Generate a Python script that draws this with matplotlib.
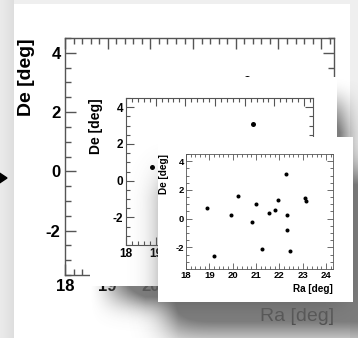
import numpy as np
import matplotlib.pyplot as plt
from matplotlib.patches import Polygon
from matplotlib.ticker import MultipleLocator

W, H = 358, 338

# source positions, degrees
ra = [18.88, 19.19, 19.92, 20.22, 20.83, 21.0, 21.27, 21.57, 21.8, 21.94,
      22.27, 22.32, 22.31, 22.45, 23.12, 23.16]
de = [0.77, -2.59, 0.23, 1.61, -0.23, 1.0, -2.11, 0.43, 0.59, 1.32,
      3.11, 0.23, -0.77, -2.27, 1.41, 1.23]

x_ticks = [18, 19, 20, 21, 22, 23, 24]
y_ticks = [-2, 0, 2, 4]

plt.rcParams['font.family'] = ['Liberation Sans', 'DejaVu Sans']
plt.rcParams['axes.unicode_minus'] = False

fig = plt.figure(figsize=(W / 100, H / 100), dpi=100)


def rect(x0, y0, x1, y1):
    return [x0 / W, 1 - y1 / H, (x1 - x0) / W, (y1 - y0) / H]


def blur_step(n, a, b, sigma):
    v = np.zeros(n)
    v[max(int(a), 0):min(int(b), n)] = 1.0
    k = np.arange(-3 * sigma, 3 * sigma + 1)
    k = np.exp(-0.5 * (k / sigma) ** 2)
    k /= k.sum()
    p = len(k)
    return np.convolve(np.pad(v, p, mode='edge'), k, mode='same')[p:-p]


def shadow(box, dx, dy, sigma, strength, reach, lead, z):
    # soft drop shadow, fading out towards the card's top-left corner
    x0, y0, x1, y1 = box
    m = np.outer(blur_step(H, y0 + dy, y1 + dy, sigma),
                 blur_step(W, x0 + dx, x1 + dx, sigma))
    yy, xx = np.mgrid[0:H, 0:W]
    ramp = (np.clip((xx - x0 + lead) / reach, 0, 1)
            * np.clip((yy - y0) / reach, 0, 1))
    img = np.zeros((H, W, 4))
    img[..., :3] = 0.4
    img[..., 3] = np.clip(m * ramp * strength, 0, 0.85)
    ax = fig.add_axes([0, 0, 1, 1], zorder=z)
    ax.imshow(img, extent=(0, W, H, 0), interpolation='bilinear')
    ax.set_xlim(0, W)
    ax.set_ylim(H, 0)
    ax.axis('off')


def panel(card, box, z, tick_fs, label_fs, ms, major, lw, xpad, ylab_x,
          n_xlabels=7, xweight='bold', xlabel=True):
    if card is not None:
        c = fig.add_axes(rect(*card), zorder=z)
        c.set_facecolor('white')
        c.set_xticks([])
        c.set_yticks([])
        for s in c.spines.values():
            s.set_visible(False)
    ax = fig.add_axes(rect(*box), zorder=z + 0.5)
    ax.patch.set_alpha(0)
    ax.plot(ra, de, 'o', color='black', ms=ms, mec='none')
    ax.set_xlim(18, 24.3)
    ax.set_ylim(-3.5, 4.5)
    # labels that would sit under the next card are left empty
    ax.set_xticks(x_ticks, [str(t) if i < n_xlabels else '' for i, t in enumerate(x_ticks)])
    ax.set_yticks(y_ticks, [str(t) for t in y_ticks])
    ax.xaxis.set_minor_locator(MultipleLocator(0.2))
    ax.yaxis.set_minor_locator(MultipleLocator(0.5))
    ax.tick_params(which='both', direction='in', top=True, right=True,
                   labelsize=tick_fs, width=lw, color='#555555', pad=major * 0.4)
    ax.tick_params(which='major', length=major)
    ax.tick_params(which='minor', length=major * 0.5)
    for t in ax.get_xticklabels() + ax.get_yticklabels():
        t.set_fontweight('bold')
    for s in ax.spines.values():
        s.set_linewidth(lw)
        s.set_color('#555555')
    if xlabel:
        ax.set_xlabel('Ra [deg]', fontsize=label_fs, fontweight=xweight,
                      loc='right', labelpad=xpad)
    ax.set_ylabel('De [deg]', fontsize=label_fs, fontweight='bold', loc='top')
    ax.yaxis.set_label_coords(ylab_x, 1.0)
    return ax


# page background with the large card
bg = fig.add_axes([0, 0, 1, 1], zorder=0)
base = np.full((H, W, 3), 0.94)
base[4:, 14:350] = 1.0
base[:, :14] *= np.linspace(0.98, 0.93, 14)[None, :, None]
bg.imshow(base, extent=(0, W, H, 0), interpolation='nearest')
bg.add_patch(Polygon([[-8, 168], [7, 178], [-8, 188]], closed=True, color='black'))
bg.set_xlim(0, W)
bg.set_ylim(H, 0)
bg.axis('off')

panel(None, (65, 38, 334, 275), 1, 12, 14, 5, 8, 1.0, 10, -0.112,
      n_xlabels=3, xweight='normal')
shadow((90, 77, 337, 286), 6, 14, 12, 1.4, 55, 0, 2)
panel((90, 77, 337, 286), (126, 98, 313, 245), 3, 8.5, 10, 3.6, 5.5, 0.8, 2, -0.125,
      n_xlabels=2, xlabel=False)
shadow((158, 137, 353, 302), 5, 28, 18, 1.25, 60, 40, 5)
panel((158, 137, 353, 302), (186, 154, 333, 269), 6, 6.8, 7.2, 2.9, 4, 0.6, 3, -0.116)

fig.savefig('out.png', dpi=100)
